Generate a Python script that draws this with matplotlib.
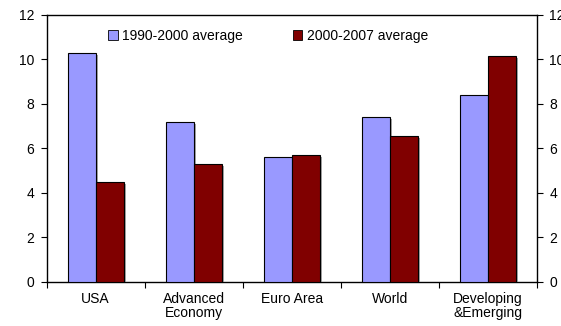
import matplotlib.pyplot as plt
import matplotlib.patheffects as pe
import numpy as np

plt.rcParams['font.family'] = ['Liberation Sans', 'DejaVu Sans']

### categories and the two period averages
regions = ['USA', 'Advanced\nEconomy', 'Euro Area', 'World', 'Developing\n&Emerging']
avg_1990_2000 = [10.3, 7.2, 5.6, 7.4, 8.4]
avg_2000_2007 = [4.5, 5.3, 5.7, 6.55, 10.15]

blue = '#9999FF'
red = '#800000'
width = 0.285

fig = plt.figure(figsize=(5.61, 3.26), dpi=100)
ax = fig.add_axes([0.083, 0.135, 0.874, 0.819])

x = np.arange(len(regions))
shadow = [pe.SimplePatchShadow(offset=(1.5, -1.5), shadow_rgbFace='gray', alpha=0.7), pe.Normal()]
b1 = ax.bar(x - width / 2, avg_1990_2000, width, color=blue, edgecolor='black', linewidth=0.8,
            label='1990-2000 average', zorder=3)
b2 = ax.bar(x + width / 2, avg_2000_2007, width, color=red, edgecolor='black', linewidth=0.8,
            label='2000-2007 average', zorder=3)
for bar in list(b1) + list(b2):
    bar.set_path_effects(shadow)

ax.set_xlim(-0.5, len(regions) - 0.5)
ax.set_ylim(0, 12)
ax.set_yticks(np.arange(0, 13, 2))
ax.set_xticks(x)
ax.set_xticklabels(regions, fontsize=10, linespacing=1.05)
ax.set_xticks(np.arange(-0.5, len(regions), 1), minor=True)
ax.tick_params(axis='x', which='major', length=0, pad=7)
ax.tick_params(axis='x', which='minor', length=4, direction='out', width=0.8)
ax.tick_params(axis='y', length=4, direction='out', width=0.8, labelsize=10,
               right=True, labelright=True, pad=5)

for s in ax.spines.values():
    s.set_linewidth(1)

leg = ax.legend(loc='upper left', bbox_to_anchor=(0.1, 0.995), ncol=2, frameon=False,
                fontsize=10, handlelength=0.7, handleheight=0.7, handletextpad=0.3,
                columnspacing=3.6)
for h in leg.legend_handles:
    h.set_edgecolor('black')
    h.set_linewidth(0.6)
    h.set_path_effects([])

fig.savefig('out.png', dpi=100)
